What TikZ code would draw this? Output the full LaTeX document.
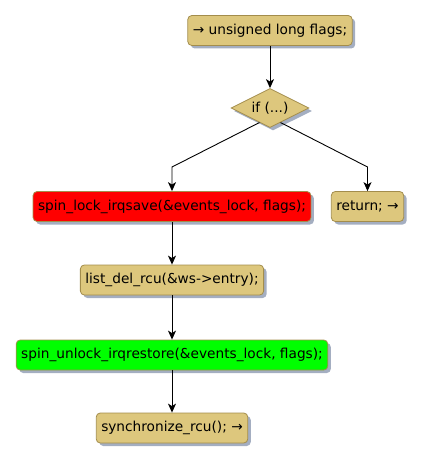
\documentclass[tikz,border=0pt]{standalone}
\usepackage{fontspec}
\setmainfont{DejaVu Sans}
\usepackage{tikz}
\usetikzlibrary{arrows.meta,shapes.geometric,shadows}
\definecolor{ActTan}{HTML}{DDC77D}
\definecolor{ActBorder}{HTML}{A38D4C}
\definecolor{ShadowGray}{HTML}{A4AEC1}
\definecolor{LockRed}{HTML}{FF0000}
\definecolor{UnlockGreen}{HTML}{00FF00}

\begin{document}
\begin{tikzpicture}[
      x=1pt,y=-1pt,
      font=\fontsize{13.7}{16}\selectfont,
      >={Stealth[length=9pt,width=8pt,inset=2.5pt]},
      actshadow/.style={drop shadow={shadow xshift=3pt,shadow yshift=-3pt,fill=ShadowGray,opacity=1}},
      actbox/.style={draw=ActBorder,fill=ActTan,line width=0.8pt,rounded corners=4pt,minimum height=30pt,inner xsep=5pt,actshadow},
      lockbox/.style={actbox,fill=LockRed},
      unlockbox/.style={actbox,fill=UnlockGreen},
      condbox/.style={diamond,aspect=2,draw=ActBorder,fill=ActTan,line width=0.8pt,inner sep=0pt,minimum width=78pt,minimum height=39pt,actshadow},
      arr/.style={->,line width=0.9pt,draw=black}
    ]
      \useasboundingbox (0,0) rectangle (421,462);
      \node[actbox] (decl) at (270,30.5) {→ unsigned long flags;};
      \node[condbox] (cond) at (270,108) {if (...)};
      \node[lockbox] (lock) at (172,206.5) {spin\_lock\_irqsave(\&events\_lock, flags);};
      \node[actbox] (ret) at (367.5,206.5) {return; →};
      \node[actbox] (del) at (172,280) {list\_del\_rcu(\&ws->entry);};
      \node[unlockbox] (unlock) at (172,355) {spin\_unlock\_irqrestore(\&events\_lock, flags);};
      \node[actbox] (sync) at (172,428) {synchronize\_rcu(); →};
      % branch corners
      \coordinate (lbend) at (172,167);
      \coordinate (rbend) at (367.5,167);
      \draw[arr] (decl) -- (cond);
      \draw[arr] (cond.-126) -- (lbend) -- (lock);
      \draw[arr] (cond.-54) -- (rbend) -- (ret);
      \draw[arr] (lock) -- (del);
      \draw[arr] (del) -- (unlock);
      \draw[arr] (unlock) -- (sync);
    \end{tikzpicture}
\end{document}
